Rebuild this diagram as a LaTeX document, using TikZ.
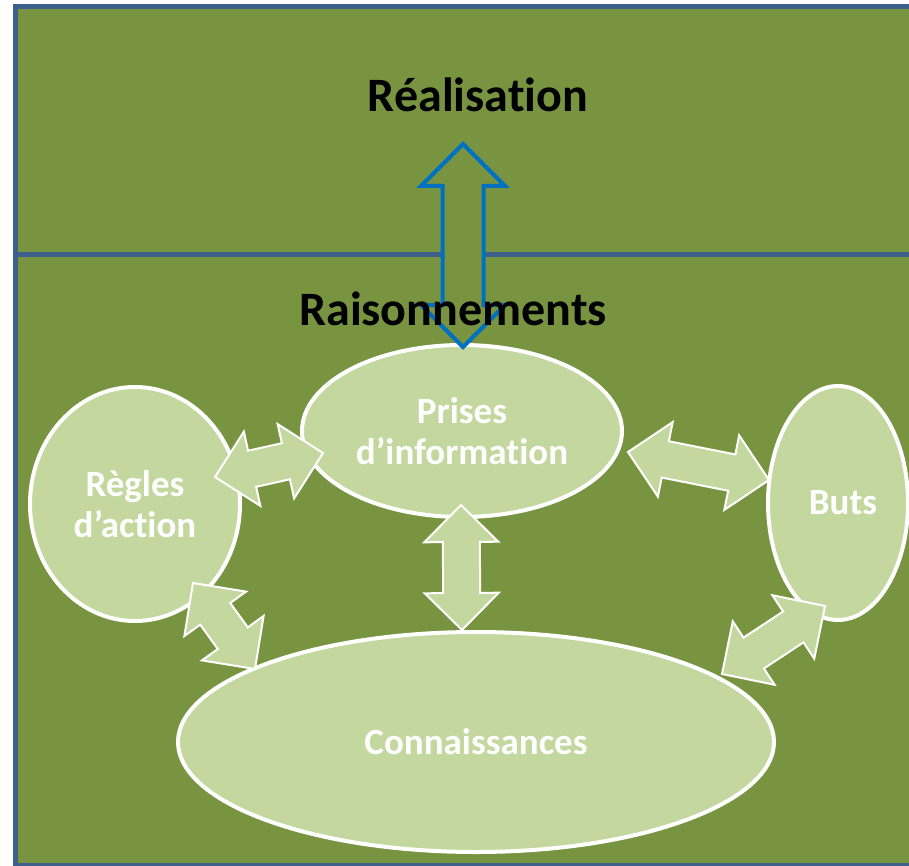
\documentclass[tikz,border=0pt]{standalone}
\usepackage{fontspec}
\setmainfont{Carlito}[Ligatures=NoCommon]
\usetikzlibrary{calc,shapes.geometric}

\definecolor{bggreen}{HTML}{789440}
\definecolor{palegreen}{HTML}{C4D79F}
\definecolor{frameblue}{HTML}{3C5F8C}
\definecolor{arrowblue}{HTML}{0070C0}

% double arrow from tip #2 to tip #3, head size #4, shaft half width #5
\newcommand{\dblarrow}[5][]{%
  \draw[#1] (#2) -- ($(#2)!#4!(#3)!#4!90:(#3)$)
                 -- ($(#2)!#4!(#3)!#5!90:(#3)$)
                 -- ($(#3)!#4!(#2)!#5!-90:(#2)$)
                 -- ($(#3)!#4!(#2)!#4!-90:(#2)$)
                 -- (#3)
                 -- ($(#3)!#4!(#2)!#4!90:(#2)$)
                 -- ($(#3)!#4!(#2)!#5!90:(#2)$)
                 -- ($(#2)!#4!(#3)!#5!-90:(#3)$)
                 -- ($(#2)!#4!(#3)!#4!-90:(#3)$)
                 -- cycle;}

\begin{document}
\begin{tikzpicture}[x=1pt,y=-1pt]

    \tikzstyle{zone}=[fill=bggreen, draw=frameblue, line width=5pt]
    \tikzstyle{bubble}=[ellipse, fill=palegreen, draw=white, line width=4pt,
                        inner sep=0pt, align=center, text=white,
                        font=\bfseries\fontsize{37}{41}\selectfont]
    \tikzstyle{heading}=[font=\bfseries\fontsize{48}{56}\selectfont, inner sep=0pt]
    \tikzstyle{link}=[fill=palegreen, draw=white, line width=2pt]
    \tikzstyle{bigarrow}=[fill=bggreen, draw=arrowblue, line width=4pt]

    \clip (0,0) rectangle (909,866);
    \draw[zone] (15,7) rectangle (940,865);
    \draw[draw=frameblue, line width=5pt] (15,255) -- (940,255);

    \node[bubble, minimum width=320pt, minimum height=172pt] (prises) at (462,431) {Prises\\d’information};
    \node[bubble, minimum width=210pt, minimum height=234pt] (regles) at (135,504) {Règles\\d’action};
    \node[bubble, minimum width=140pt, minimum height=234pt] (buts)   at (838,503) {\hspace*{10pt}Buts};
    \node[bubble, minimum width=596pt, minimum height=220pt] (conn)   at (476,742) {Connaissances};

    \coordinate (r1) at (215,477);  \coordinate (p1) at (323,453);
    \coordinate (p2) at (628,452);  \coordinate (b1) at (769,480);
    \coordinate (p3) at (461,505);  \coordinate (c1) at (462,630);
    \coordinate (r2) at (193,583);  \coordinate (c2) at (255,669);
    \coordinate (b2) at (825,606);  \coordinate (c3) at (722,674);

    \dblarrow[link]{r1}{p1}{38pt}{18.5pt}
    \dblarrow[link]{p2}{b1}{38pt}{18.5pt}
    \dblarrow[link]{p3}{c1}{37pt}{18.5pt}
    \dblarrow[link]{r2}{c2}{38pt}{18.5pt}
    \dblarrow[link]{b2}{c3}{38pt}{18.5pt}

    \coordinate (realtip) at (463,144);
    \coordinate (raistip) at (463,347);
    \dblarrow[bigarrow]{realtip}{raistip}{42pt}{20.5pt}

    \node[heading] (realisation)   at (478,95)  {Réalisation};
    \node[heading] (raisonnements) at (453,309) {Raisonnements};

\end{tikzpicture}
\end{document}
